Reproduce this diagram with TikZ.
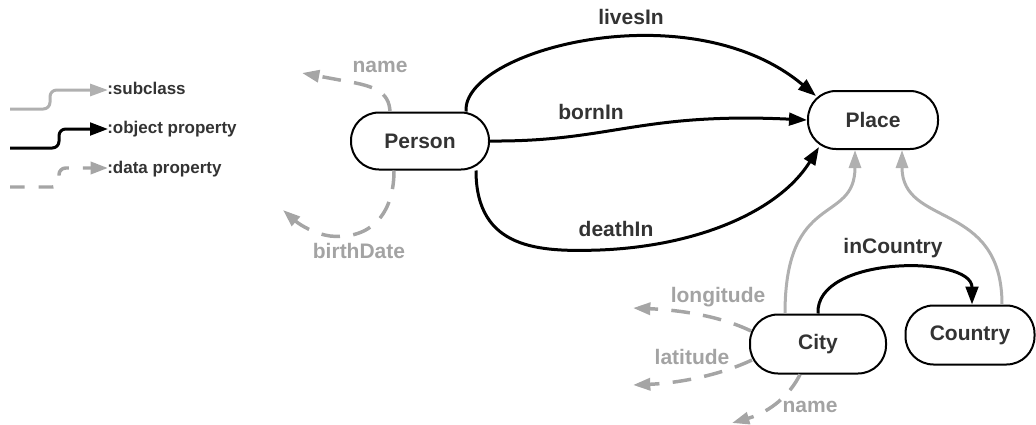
\documentclass[tikz,border=0pt]{standalone}
\usepackage{fontspec}
\setmainfont{Liberation Sans}
\usetikzlibrary{arrows.meta,calc}
\definecolor{txt}{HTML}{333333}
\definecolor{gtxt}{HTML}{A3A3A3}
\definecolor{subc}{HTML}{B0B0B0}
\definecolor{dgray}{HTML}{A5A5A5}
\tikzset{
  cls/.style={draw=black,line width=1.5pt,rounded corners=21pt,fill=white,
    font=\bfseries\fontsize{15.75}{18}\selectfont,text=txt,inner sep=0pt},
  lbl/.style={font=\bfseries\fontsize{15.75}{18}\selectfont,text=txt,inner sep=0pt},
  glbl/.style={font=\bfseries\fontsize{15.75}{18}\selectfont,text=gtxt,inner sep=0pt},
  leg/.style={font=\bfseries\fontsize{12.75}{15}\selectfont,text=txt,inner sep=0pt,anchor=west},
  objp/.style={draw=black,line width=2.25pt,-{Triangle[length=13.5pt,width=9.5pt]}},
  subp/.style={draw=subc,line width=2.25pt,-{Triangle[length=13.5pt,width=9pt]}},
  datp/.style={draw=dgray,line width=2.6pt,dash pattern=on 14pt off 10pt,-{Triangle[length=13pt,width=9pt]}},
}
\begin{document}
\begin{tikzpicture}[x=0.75pt,y=-0.75pt]
\useasboundingbox (0,0) rectangle (1036,425);
% nodes
\node[cls,minimum width=103.5pt,minimum height=42.75pt] (Person) at (420,141) {Person};
\node[cls,minimum width=97.5pt,minimum height=43.5pt] (Place) at (873,120) {Place};
\node[cls,minimum width=102pt,minimum height=44.25pt] (City) at (818,344) {City};
\node[cls,minimum width=96.75pt,minimum height=44.25pt] (Country) at (970,335) {Country};
% legend
\coordinate (l1a) at (10,109); \coordinate (l1b) at (108,90);
\coordinate (l2a) at (10,148); \coordinate (l2b) at (108,129);
\coordinate (l3a) at (10,187); \coordinate (l3b) at (108,168);
\draw[subp,rounded corners=5pt] (l1a) -- (50,109) -- (50,90) -- (l1b);
\draw[objp,rounded corners=5pt] (l2a) -- (59,148) -- (59,129) -- (l2b);
\draw[datp,dash pattern=on 11pt off 10.5pt,rounded corners=5pt] (l3a) -- (59,187) -- (59,168) -- (l3b);
\node[leg] (t1) at (107,88) {:subclass};
\node[leg] (t2) at (107,129) {:object property};
\node[leg] (t3) at (107,169) {:data property};
% object properties
\draw[objp] ($(Person.north)+(46,0)$) .. controls (462,50) and (690,-10) .. ($(Place.north west)+(9,6)$);
\draw[objp] (Person.east) .. controls (610,142) and (640,112) .. (Place.west);
\draw[objp] ($(Person.south)+(56,0)$) .. controls (476,250) and (540,252) .. (600,250)
   .. controls (700,246) and (780,210) .. ($(Place.south west)+(12,-3)$);
\draw[objp] (City.north) .. controls (815,255) and (972,255) .. ($(Country.north)+(2,0)$);
% subclass
\draw[subp] ($(City.north)+(-33,0)$) .. controls (785,190) and (855,225) .. ($(Place.south)+(-18,0)$);
\draw[subp] ($(Country.north)+(32,0)$) .. controls (1002,200) and (902,228) .. ($(Place.south)+(29,0)$);
% data properties
\coordinate (pn) at (302,73);
\coordinate (pb) at (283,210);
\coordinate (clo) at (633,308);
\coordinate (cla) at (633,385);
\coordinate (cna) at (732,423);
\draw[datp] ($(Person.north)+(-30,0)$) .. controls (389,92) and (375,86) .. (345,81) -- (pn);
\draw[datp] ($(Person.south)+(-26,0)$) .. controls (394,215) and (370,240) .. (330,236)
   .. controls (315,234) and (300,225) .. (pb);
\draw[datp] ($(City.west)+(2,-13)$) .. controls (720,316) and (680,310) .. (clo);
\draw[datp] ($(City.west)+(3,16)$) .. controls (720,375) and (680,383) .. (cla);
\draw[datp] ($(City.south)+(-18,0)$) .. controls (790,395) and (770,412) .. (cna);
% labels
\node[lbl] (livesIn) at (631,17) {livesIn};
\node[lbl] (bornIn) at (591,112) {bornIn};
\node[lbl] (deathIn) at (616,229) {deathIn};
\node[lbl] (inCountry) at (893,248) {inCountry};
\node[glbl] (pname) at (380,67) {name};
\node[glbl] (bdate) at (359,251) {birthDate};
\node[glbl] (long) at (718,297) {longitude};
\node[glbl] (lat) at (692,357) {latitude};
\node[glbl] (cname) at (810,407) {name};
\end{tikzpicture}
\end{document}
